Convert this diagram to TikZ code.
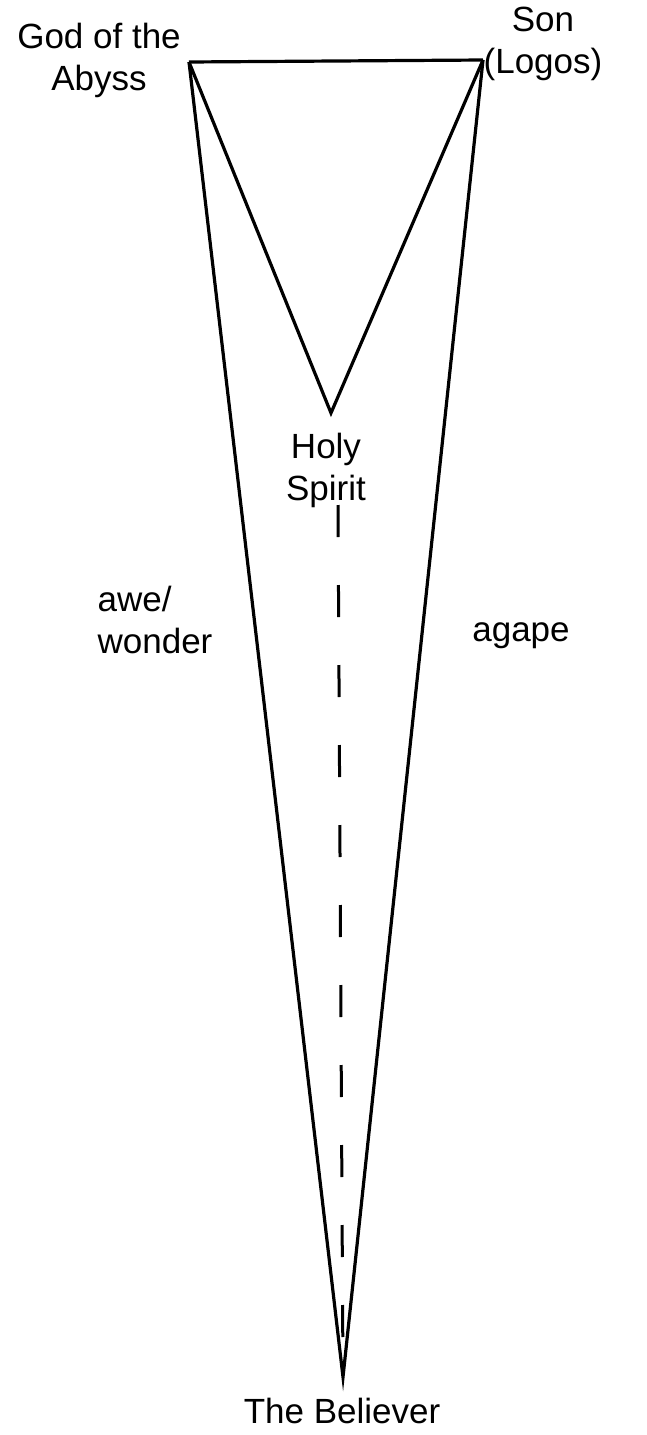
\documentclass[tikz,border=0pt]{standalone}
\usepackage{fontspec}
\setmainfont{Liberation Sans}
\begin{document}
\begin{tikzpicture}[x=1pt,y=-1pt,
  edge/.style={line width=3.2pt},
  dashedge/.style={line width=3pt,dash pattern=on 32pt off 48pt},
  lbl/.style={inner sep=0pt,font=\fontsize{35}{42}\selectfont}]
\useasboundingbox (0,0) rectangle (646,1435);
\coordinate (A) at (189,62);
\coordinate (S) at (483,60);
\coordinate (H) at (331,413);
\coordinate (B) at (343,1377);
\coordinate (D) at (338,505);
\draw[edge] (A) -- (S);
\draw[edge] (A) -- (H) -- (S);
\draw[edge] (A) -- (B) -- (S);
\draw[dashedge] (D) -- (B);
\node[lbl,align=center] (god) at (99,60) {God of the\\Abyss};
\node[lbl,align=center] (son) at (543,44) {Son\\(Logos)};
\node[lbl,align=center] (hs) at (326,470) {Holy\\Spirit};
\node[lbl,align=left] (awe) at (155,620) {awe/\\wonder};
\node[lbl] (agape) at (521,636) {agape};
\node[lbl] (bel) at (342,1411) {The Believer};
\end{tikzpicture}
\end{document}
